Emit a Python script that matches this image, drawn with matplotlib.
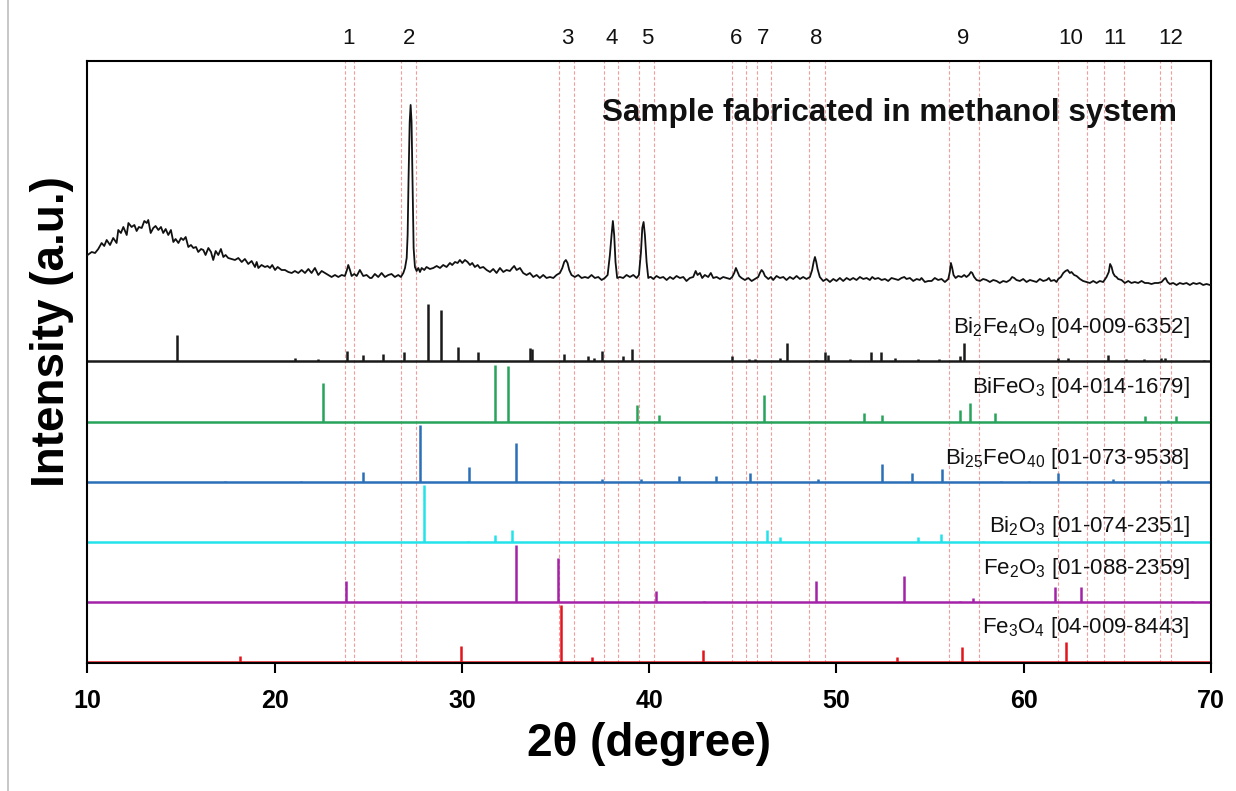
import matplotlib
matplotlib.use("Agg")
import matplotlib.pyplot as plt
from matplotlib.lines import Line2D

plt.rcParams['font.family'] = ['Liberation Sans', 'DejaVu Sans']
plt.rcParams['mathtext.fontset'] = 'custom'
plt.rcParams['mathtext.rm'] = 'Liberation Sans'
plt.rcParams['mathtext.it'] = 'Liberation Sans:italic'
plt.rcParams['mathtext.bf'] = 'Liberation Sans:bold'

# measured pattern of the methanol-route sample (2theta, counts above background)
sample_2theta = [
    10.01, 10.23, 10.41, 10.58, 10.76, 10.90, 11.03, 11.21, 11.38, 11.56, 11.65, 11.79, 11.92, 12.10,
    12.19, 12.36, 12.51, 12.63, 12.75, 12.90, 13.04, 13.17, 13.25, 13.38, 13.52, 13.64, 13.79, 13.93,
    14.05, 14.18, 14.32, 14.46, 14.59, 14.71, 14.86, 15.00, 15.12, 15.25, 15.39, 15.53, 15.66, 15.80,
    15.92, 16.07, 16.19, 16.31, 16.46, 16.60, 16.72, 16.85, 16.99, 17.13, 17.26, 17.38, 17.52, 17.70,
    17.88, 18.06, 18.24, 18.41, 18.59, 18.77, 18.95, 19.04, 19.13, 19.30, 19.48, 19.62, 19.75, 19.87,
    20.02, 20.16, 20.37, 20.55, 20.73, 20.91, 21.08, 21.26, 21.44, 21.62, 21.80, 21.97, 22.15, 22.33,
    22.51, 22.69, 22.86, 23.04, 23.22, 23.40, 23.58, 23.75, 23.86, 23.93, 24.02, 24.11, 24.25, 24.38,
    24.55, 24.73, 24.91, 25.09,
    25.18, 25.35, 25.53, 25.71, 25.89, 26.07, 26.24, 26.42, 26.60, 26.74, 26.87, 26.96, 27.05, 27.10,
    27.15, 27.21, 27.26, 27.31, 27.37, 27.42, 27.49, 27.58, 27.67, 27.76, 27.85, 27.99, 28.11, 28.29,
    28.47, 28.65, 28.83, 29.00, 29.18, 29.36, 29.48, 29.63, 29.77, 29.89, 30.02, 30.16, 30.30, 30.43,
    30.55, 30.69, 30.84, 30.96, 31.14, 31.32, 31.50, 31.67, 31.85, 32.03, 32.21, 32.38, 32.56, 32.69,
    32.79, 32.92, 33.10, 33.27, 33.45, 33.63, 33.81, 33.99, 34.16, 34.34, 34.52, 34.70, 34.88, 35.05,
    35.23, 35.36, 35.46, 35.55, 35.64, 35.73, 35.85, 36.03, 36.21, 36.39, 36.57, 36.74, 36.92, 37.10,
    37.28, 37.46, 37.63, 37.78, 37.90, 37.99, 38.06, 38.13, 38.20, 38.29, 38.43, 38.61, 38.79, 38.97,
    39.15, 39.33, 39.45, 39.56, 39.63, 39.70, 39.77, 39.86, 39.95, 40.04,
    40.09, 40.22, 40.39, 40.57, 40.75, 40.93, 41.11, 41.28, 41.46, 41.64, 41.82, 41.99, 42.17, 42.35,
    42.48, 42.58, 42.71, 42.83, 42.97, 43.15, 43.29, 43.42, 43.60, 43.78, 43.95, 44.13, 44.31, 44.43,
    44.54, 44.63, 44.72, 44.81, 44.93, 45.11, 45.29, 45.47, 45.64, 45.82, 45.91, 46.00, 46.09, 46.18,
    46.36, 46.50, 46.62, 46.80, 46.98, 47.16, 47.33, 47.51, 47.69, 47.87, 48.05, 48.22, 48.40, 48.58,
    48.70, 48.78, 48.85, 48.92, 48.99, 49.11, 49.29, 49.47, 49.65, 49.83, 50.00, 50.18, 50.36, 50.54,
    50.72, 50.89, 51.07, 51.25, 51.43, 51.61, 51.78, 51.91, 52.05, 52.23, 52.41, 52.59, 52.76, 52.94,
    53.12, 53.30, 53.47, 53.62, 53.74, 53.92, 54.10, 54.28, 54.45, 54.54, 54.72, 54.90,
    55.08, 55.25, 55.43, 55.61, 55.79, 55.97, 56.05, 56.11, 56.18, 56.25, 56.36, 56.50, 56.68, 56.82,
    56.94, 57.07, 57.18, 57.25, 57.35, 57.48, 57.66, 57.83, 58.01, 58.19, 58.37, 58.55, 58.72, 58.90,
    59.08, 59.26, 59.38, 59.49, 59.61, 59.79, 59.97, 60.15, 60.33, 60.50, 60.68, 60.86, 61.04, 61.22,
    61.34, 61.45, 61.63, 61.75, 61.84, 61.98, 62.11, 62.23, 62.34, 62.46, 62.55, 62.69, 62.82, 63.00,
    63.17, 63.35, 63.53, 63.71, 63.89, 64.06, 64.24, 64.42, 64.54, 64.61, 64.69, 64.77, 64.86, 64.95,
    65.04, 65.22, 65.40, 65.58, 65.75, 65.93, 66.11, 66.29, 66.47, 66.64, 66.82, 67.00, 67.18, 67.36,
    67.50, 67.57, 67.68, 67.80, 67.98, 68.16, 68.33, 68.51, 68.69, 68.87, 69.05, 69.22, 69.40, 69.58,
    69.76, 69.94,
]
sample_counts = [
    38, 41, 40, 44, 50, 47, 53, 48, 55, 50, 63, 60, 66, 58,
    70, 66, 68, 62, 66, 65, 72, 70, 73, 60, 65, 67, 63, 66,
    60, 64, 58, 63, 51, 54, 50, 55, 53, 56, 46, 48, 45, 46,
    41, 44, 43, 38, 45, 41, 33, 42, 38, 44, 36, 38, 35, 34,
    33, 35, 31, 34, 29, 32, 26, 31, 25, 28, 26, 27, 25, 28,
    23, 26, 23, 23, 21, 20, 22, 20, 23, 20, 24, 20, 25, 18,
    22, 20, 18, 16, 18, 16, 18, 17, 23, 28, 23, 17, 19, 17,
    23, 17, 18, 15,
    15, 19, 16, 20, 16, 18, 19, 16, 18, 16, 20, 25, 35, 58,
    115, 171, 188, 171, 105, 45, 26, 22, 25, 21, 25, 23, 26, 24,
    25, 27, 25, 28, 26, 30, 28, 31, 30, 33, 30, 33, 31, 28,
    30, 26, 28, 25, 26, 23, 21, 24, 20, 25, 21, 23, 22, 25,
    27, 23, 25, 20, 18, 20, 16, 18, 15, 18, 15, 16, 15, 18,
    20, 25, 31, 33, 30, 23, 18, 16, 18, 15, 16, 15, 18, 15,
    16, 13, 15, 18, 38, 58, 72, 58, 31, 15, 16, 15, 18, 16,
    18, 15, 18, 41, 65, 71, 58, 31, 15, 16,
    16, 14, 17, 15, 16, 13, 16, 14, 17, 15, 16, 12, 15, 16,
    22, 18, 20, 15, 18, 16, 20, 15, 16, 14, 16, 15, 14, 16,
    20, 25, 21, 17, 15, 13, 15, 12, 14, 16, 20, 23, 21, 17,
    14, 16, 13, 17, 15, 16, 13, 16, 14, 17, 14, 16, 14, 16,
    23, 31, 36, 31, 24, 16, 12, 14, 11, 14, 12, 15, 12, 15,
    13, 15, 13, 16, 14, 15, 13, 16, 14, 15, 13, 14, 12, 15,
    14, 13, 15, 16, 14, 15, 12, 14, 13, 15, 11, 12,
    12, 15, 13, 14, 11, 14, 21, 30, 25, 18, 15, 17, 16, 18,
    16, 18, 21, 20, 16, 13, 12, 14, 13, 11, 13, 12, 10, 12,
    11, 13, 16, 15, 13, 12, 14, 11, 13, 12, 11, 14, 12, 13,
    15, 12, 13, 11, 14, 16, 20, 22, 23, 20, 21, 18, 17, 14,
    12, 11, 10, 12, 10, 12, 11, 16, 21, 29, 26, 20, 17, 16,
    14, 13, 10, 12, 10, 11, 10, 12, 10, 10, 9, 10, 10, 11,
    14, 15, 11, 9, 10, 8, 10, 9, 10, 8, 10, 9, 10, 8,
    9, 8,
]

# reference cards: stick positions (2theta) and relative intensities (%)
bi2fe4o9_pos = [14.78, 21.06, 22.30, 23.87, 24.72, 25.80, 26.89, 28.17, 28.90, 29.77, 30.86, 33.66,
                33.74, 35.44, 36.72, 37.06, 37.50, 38.58, 39.07, 44.42, 45.33, 45.63, 47.00, 47.34,
                48.90, 49.40, 49.55, 50.70, 51.84, 52.38, 53.13, 54.37, 55.48, 56.62, 56.82, 61.81,
                62.35, 64.52, 65.47, 66.43, 67.34, 67.54, 69.60]
bi2fe4o9_int = [46, 5, 3, 18, 10, 12, 16, 100, 89, 24, 15, 23,
                21, 13, 9, 5, 18, 8, 21, 9, 3, 3, 5, 31,
                2, 16, 10, 3, 15, 15, 6, 3, 3, 8, 31, 6,
                6, 10, 3, 3, 5, 5, 1]

bifeo3_pos = [22.56, 31.77, 32.48, 37.81, 39.35, 40.50, 46.13, 51.48, 52.42, 56.62, 57.13, 58.45,
              66.47, 68.12]
bifeo3_int = [69, 100, 99, 2, 30, 12, 47, 15, 12, 21, 34, 15,
              11, 11]

bi25feo40_pos = [17.37, 21.38, 24.70, 27.74, 30.38, 32.91, 35.24, 37.47, 39.57, 41.61, 43.56, 45.39,
                 49.00, 52.42, 54.05, 55.64, 58.80, 60.30, 61.81, 64.78, 67.68]
bi25feo40_int = [1, 2, 18, 100, 26, 68, 2, 6, 6, 11, 11, 15,
                 5, 32, 16, 23, 1, 1, 15, 6, 3]

bi2o3_pos = [27.97, 30.30, 31.77, 32.68, 46.29, 46.97, 54.33, 55.58, 57.83]
bi2o3_int = [100, 2, 12, 21, 21, 9, 9, 14, 2]

fe2o3_pos = [23.83, 32.87, 35.12, 39.09, 40.34, 42.90, 48.88, 53.61, 56.58, 57.29, 61.65, 63.06, 69.00]
fe2o3_int = [37, 100, 78, 2, 20, 1, 36, 46, 2, 7, 26, 26, 1]

fe3o4_pos = [18.16, 29.95, 35.28, 36.92, 42.87, 53.21, 56.72, 62.27]
fe3o4_int = [10, 28, 100, 8, 21, 9, 27, 35]

card_labels = [
    r'Bi$_2$Fe$_4$O$_9$ [04-009-6352]',
    r'BiFeO$_3$ [04-014-1679]',
    r'Bi$_{25}$FeO$_{40}$ [01-073-9538]',
    r'Bi$_2$O$_3$ [01-074-2351]',
    r'Fe$_2$O$_3$ [01-088-2359]',
    r'Fe$_3$O$_4$ [04-009-8443]',
]
card_colors = ['#1a1a1a', '#27a35a', '#2a6fb8', '#22e2ea', '#a322a8', '#e3141c']

# dashed windows around the indexed sample reflections
window_lo = [23.75, 26.77, 35.20, 37.57, 39.47, 44.42, 45.73, 48.54, 56.02, 61.81, 64.26, 67.30]
window_hi = [24.24, 27.54, 35.97, 38.34, 40.24, 45.17, 46.53, 49.37, 57.59, 63.36, 65.33, 67.84]
peak_ids = ['1', '2', '3', '4', '5', '6', '7', '8', '9', '10', '11', '12']
peak_id_x = [23.96, 27.18, 35.60, 37.99, 39.90, 44.62, 46.07, 48.90, 56.78, 62.51, 64.86, 67.84]

cards = [
    (bi2fe4o9_pos, bi2fe4o9_int),
    (bifeo3_pos, bifeo3_int),
    (bi25feo40_pos, bi25feo40_int),
    (bi2o3_pos, bi2o3_int),
    (fe2o3_pos, fe2o3_int),
    (fe3o4_pos, fe3o4_int),
]

# vertical stacking
card_base = [302, 241, 181, 121, 61, 1]
label_lift = [28, 29, 18, 10, 28, 29]
stick_scale = 0.57
sample_base = 370

fig = plt.figure(figsize=(12.36, 7.91), dpi=100)
ax = fig.add_axes([0.0707, 0.1618, 0.9091, 0.7611])

for lo, hi in zip(window_lo, window_hi):
    for x in (lo, hi):
        ax.axvline(x, color='#f29c9c', lw=0.8, ls=(0, (3, 2)), zorder=1)

for (pos, inten), base, col, lab, lift in zip(cards, card_base, card_colors, card_labels, label_lift):
    ax.hlines(base, 10, 70, color=col, lw=1.8, zorder=2)
    ax.vlines(pos, base, [base + v * stick_scale for v in inten], color=col, lw=1.8, zorder=2)
    ax.text(68.87, base + lift, lab, ha='right', va='baseline', fontsize=16, color='#111111')

ax.plot(sample_2theta, [sample_base + c for c in sample_counts], color='#111111', lw=1.3, zorder=3)
ax.text(68.17, 542, 'Sample fabricated in methanol system', ha='right', va='baseline',
        fontsize=22.7, fontweight='bold', color='#111111')

for name, x in zip(peak_ids, peak_id_x):
    ax.text(x, 1.038, name, transform=ax.get_xaxis_transform(), ha='center', va='center',
            fontsize=16, color='#111111')

ax.set_xlim(10, 70)
ax.set_ylim(0, 602)
ax.set_xticks([10, 20, 30, 40, 50, 60, 70])
ax.set_yticks([])
ax.tick_params(axis='x', direction='out', length=7, width=1.5, pad=12, labelsize=18)
for t in ax.get_xticklabels():
    t.set_fontweight('bold')
for s in ax.spines.values():
    s.set_linewidth(1.5)
ax.set_xlabel('2θ (degree)', fontsize=33, fontweight='bold', labelpad=6)
ax.set_ylabel('Intensity (a.u.)', fontsize=33, fontweight='bold')
ax.yaxis.set_label_coords(-0.012, 0.55)

fig.add_artist(Line2D([8 / 1236, 8 / 1236], [0, 1], color='#bdbdbd', lw=1.2))

fig.savefig('out.png', dpi=100)
